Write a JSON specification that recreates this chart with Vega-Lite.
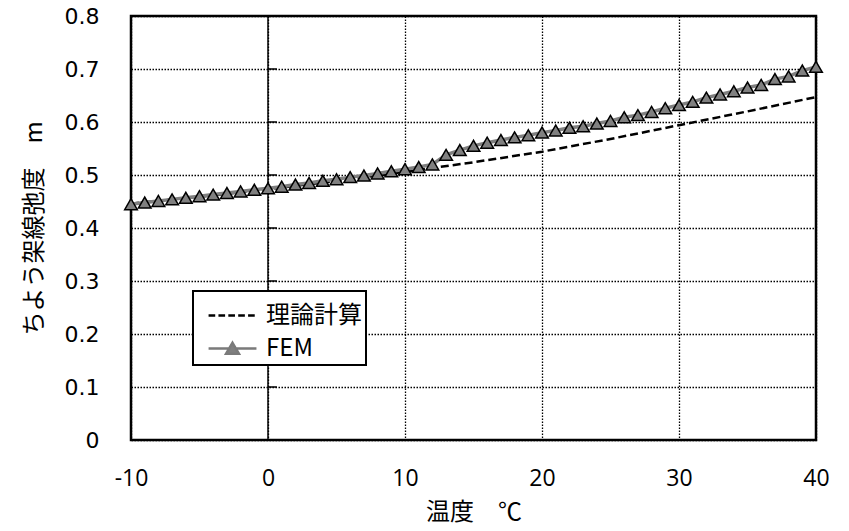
{
  "$schema": "https://vega.github.io/schema/vega-lite/v6.json",
  "width": 685,
  "height": 424,
  "autosize": "none",
  "padding": {"left": 131, "top": 16, "right": 33, "bottom": 91},
  "background": "white",
  "datasets": {
    "theory": [
      {"t": -10, "v": 0.446}, {"t": -5, "v": 0.459}, {"t": 0, "v": 0.473}, {"t": 5, "v": 0.489},
      {"t": 10, "v": 0.506}, {"t": 15, "v": 0.524}, {"t": 20, "v": 0.544}, {"t": 25, "v": 0.568},
      {"t": 30, "v": 0.594}, {"t": 35, "v": 0.620}, {"t": 40, "v": 0.647}
    ],
    "fem": [
      {"t": -10, "v": 0.445}, {"t": -9, "v": 0.448}, {"t": -8, "v": 0.451}, {"t": -7, "v": 0.454},
      {"t": -6, "v": 0.457}, {"t": -5, "v": 0.460}, {"t": -4, "v": 0.463}, {"t": -3, "v": 0.466},
      {"t": -2, "v": 0.469}, {"t": -1, "v": 0.472}, {"t": 0, "v": 0.475}, {"t": 1, "v": 0.478},
      {"t": 2, "v": 0.482}, {"t": 3, "v": 0.485}, {"t": 4, "v": 0.489}, {"t": 5, "v": 0.492},
      {"t": 6, "v": 0.496}, {"t": 7, "v": 0.499}, {"t": 8, "v": 0.503}, {"t": 9, "v": 0.507},
      {"t": 10, "v": 0.511}, {"t": 11, "v": 0.515}, {"t": 12, "v": 0.520}, {"t": 13, "v": 0.538},
      {"t": 14, "v": 0.547}, {"t": 15, "v": 0.555}, {"t": 16, "v": 0.561}, {"t": 17, "v": 0.566},
      {"t": 18, "v": 0.571}, {"t": 19, "v": 0.575}, {"t": 20, "v": 0.580}, {"t": 21, "v": 0.584},
      {"t": 22, "v": 0.589}, {"t": 23, "v": 0.592}, {"t": 24, "v": 0.597}, {"t": 25, "v": 0.602},
      {"t": 26, "v": 0.609}, {"t": 27, "v": 0.613}, {"t": 28, "v": 0.619}, {"t": 29, "v": 0.626},
      {"t": 30, "v": 0.632}, {"t": 31, "v": 0.638}, {"t": 32, "v": 0.646}, {"t": 33, "v": 0.652},
      {"t": 34, "v": 0.658}, {"t": 35, "v": 0.665}, {"t": 36, "v": 0.670}, {"t": 37, "v": 0.681},
      {"t": 38, "v": 0.686}, {"t": 39, "v": 0.697}, {"t": 40, "v": 0.704}
    ],
    "yticks": [
      {"v": 0.1}, {"v": 0.2}, {"v": 0.3}, {"v": 0.4}, {"v": 0.5}, {"v": 0.6}, {"v": 0.7}
    ]
  },
  "config": {
    "view": {"stroke": "black", "strokeWidth": 2.5},
    "axis": {
      "grid": true,
      "gridColor": "black",
      "gridDash": [1.5, 1.5],
      "gridWidth": 1.3,
      "gridOpacity": 1,
      "domain": false,
      "ticks": false,
      "tickSize": 0,
      "labelFlush": false,
      "labelColor": "black",
      "titleColor": "black",
      "titleFont": "Noto Sans CJK JP",
      "titleFontSize": 24,
      "titleFontWeight": "normal"
    },
    "legend": {
      "orient": "none",
      "direction": "vertical",
      "legendX": 62,
      "legendY": 275,
      "strokeColor": "black",
      "strokeWidth": 2,
      "fillColor": "white",
      "padding": 4,
      "symbolSize": 1444,
      "symbolStrokeWidth": 2.5,
      "symbolOpacity": 1,
      "labelFont": "Noto Sans CJK JP",
      "labelFontSize": 24,
      "labelColor": "black",
      "labelOffset": 28,
      "rowPadding": 0
    }
  },
  "layer": [
    {
      "data": {"name": "theory"},
      "mark": {"type": "line", "color": "black", "strokeWidth": 2.5, "strokeDash": [8, 4]},
      "encoding": {
        "x": {
          "field": "t", "type": "quantitative",
          "scale": {"domain": [-10, 40], "nice": false, "zero": false},
          "axis": {
            "values": [-10, 0, 10, 20, 30, 40],
            "labelExpr": "'' + datum.value",
            "labelFont": "Open Sans",
            "labelFontSize": 23,
            "labelPadding": 27,
            "title": "温度　℃",
            "titlePadding": 10
          }
        },
        "y": {
          "field": "v", "type": "quantitative",
          "scale": {"domain": [0, 0.8], "nice": false, "zero": false},
          "axis": {
            "values": [0, 0.1, 0.2, 0.3, 0.4, 0.5, 0.6, 0.7, 0.8],
            "labelExpr": "datum.value == 0 ? '0' : format(datum.value, '.1f')",
            "labelFont": "DejaVu Sans",
            "labelFontSize": 22,
            "labelPadding": 32,
            "title": "ちよう架線弛度　m",
            "titlePadding": 18
          }
        }
      }
    },
    {
      "data": {"values": [{}]},
      "mark": {"type": "rule", "color": "black", "strokeWidth": 1.5},
      "encoding": {"x": {"datum": 0}}
    },
    {
      "data": {"name": "yticks"},
      "mark": {"type": "rule", "color": "black", "strokeWidth": 1.5},
      "encoding": {
        "x": {"datum": 0},
        "x2": {"datum": 0.65},
        "y": {"field": "v", "type": "quantitative"}
      }
    },
    {
      "data": {"name": "fem"},
      "mark": {"type": "line", "color": "#808080", "strokeWidth": 3.5},
      "encoding": {
        "x": {"field": "t", "type": "quantitative"},
        "y": {"field": "v", "type": "quantitative"}
      }
    },
    {
      "data": {"name": "fem"},
      "mark": {"type": "point", "shape": "triangle-up", "filled": true, "fill": "#808080", "stroke": "black", "strokeWidth": 1.5, "size": 160, "opacity": 1},
      "encoding": {
        "x": {"field": "t", "type": "quantitative"},
        "y": {"field": "v", "type": "quantitative"}
      }
    },
    {
      "data": {"values": [{"s": "理論計算"}, {"s": "FEM"}]},
      "transform": [{"filter": "false"}],
      "mark": {"type": "point", "filled": true, "opacity": 1},
      "encoding": {
        "shape": {
          "field": "s", "type": "nominal", "title": null,
          "scale": {
            "domain": ["理論計算", "FEM"],
            "range": [
              "M-0.47,0H-0.12M0.05,0H0.4M0.57,0H0.92M1.09,0H1.44M1.61,0H1.96",
              "M-0.47,0H0.61M0.97,0H2.05M0.79,-0.3L1.13,0.28L0.45,0.28Z"
            ]
          }
        },
        "stroke": {
          "field": "s", "type": "nominal", "title": null,
          "scale": {"domain": ["理論計算", "FEM"], "range": ["black", "#7a7a7a"]}
        },
        "fill": {
          "field": "s", "type": "nominal", "title": null,
          "scale": {"domain": ["理論計算", "FEM"], "range": ["transparent", "#808080"]}
        }
      }
    }
  ]
}
